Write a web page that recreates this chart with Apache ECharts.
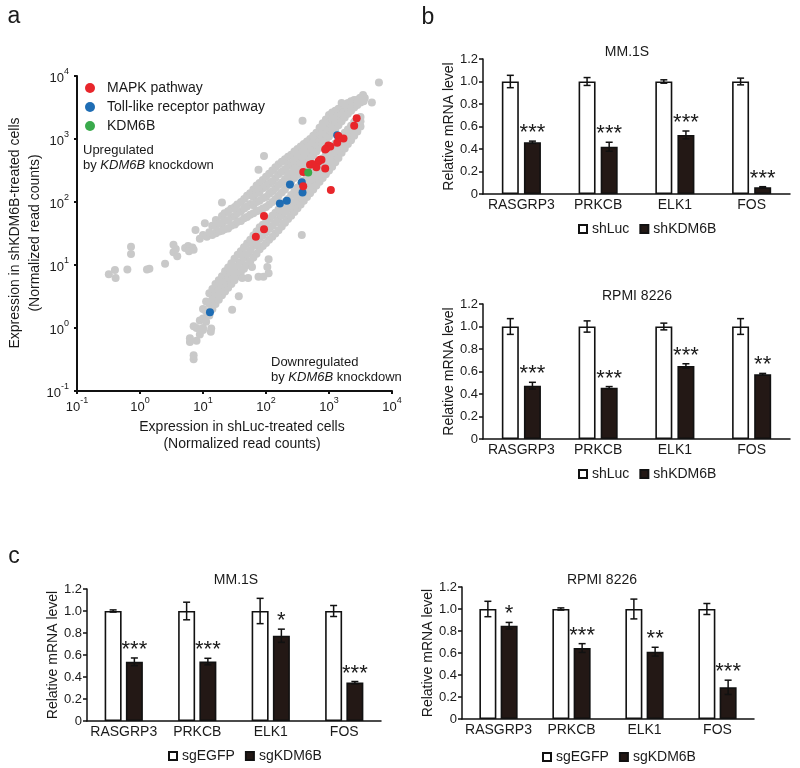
<!DOCTYPE html>
<html><head><meta charset="utf-8">
<script src="https://cdn.jsdelivr.net/npm/echarts@6/dist/echarts.min.js"></script>
<style>html,body{margin:0;padding:0;background:#fff}#c{width:800px;height:768px}</style>
</head><body><div id="c"></div>
<script>
const FONT = '"Liberation Sans", Arial, Helvetica, sans-serif';
const INK = '#1a1a1a';

// ---------- Panel a: scatter (normalized read counts) ----------
const grayUpper = [
[14,30],[14,42],[16,32],[16,41],[16,52],[18,34],[18,46],[20,35],[20,46],[20,60],
[22,37],[22,50],[22,66],[25,38],[25,51],[25,71],[28,42],[28,58],[28,78],
[32,44],[32,60],[32,83],[35,48],[35,66],[35,91],[40,50],[40,71],[40,100],
[45,55],[45,79],[45,112],[50,58],[50,85],[50,126],[56,63],[56,93],[56,138],
[63,66],[63,89],[63,120],[63,158],[71,71],[71,100],[71,138],[71,182],
[79,74],[79,105],[79,145],[79,200],[89,79],[89,115],[89,166],[89,224],
[100,83],[100,120],[100,174],[100,251],[112,91],[112,135],[112,195],[112,282],
[126,100],[126,148],[126,214],[126,316],[141,112],[141,166],[141,240],[141,355],
[158,126],[158,186],[158,275],[158,398],[178,141],[178,204],[178,302],[178,437],
[200,158],[200,229],[200,331],[200,479],[224,182],[224,263],[224,372],[224,525],
[251,209],[251,288],[251,407],[251,562],[282,240],[282,331],[282,457],[282,631],
[316,269],[316,372],[316,501],[316,692],[355,309],[355,417],[355,562],[355,759],
[398,355],[398,468],[398,631],[398,832],[447,417],[447,550],[447,724],[447,912],
[501,479],[501,617],[501,794],[501,1000],[562,550],[562,708],[562,891],[562,1122],
[631,631],[631,794],[631,1000],[631,1259],[708,724],[708,933],[708,1175],[708,1514],
[794,832],[794,1072],[794,1380],[794,1778],[891,955],[891,1230],[891,1585],[891,2042],
[1000,1096],[1000,1413],[1000,1820],[1000,2399],[1122,1259],[1122,1622],[1122,2042],[1122,2630],
[1259,1445],[1259,1820],[1259,2291],[1259,2818],[1413,1660],[1413,2089],[1413,2630],[1413,3020],
[1585,1905],[1585,2455],[1585,3162],[1778,2188],[1778,2754],[1778,3388],
[1995,2512],[1995,3090],[1995,3715],[2239,2818],[2239,3388],[2239,3981],
[2512,3162],[2512,3715],[2512,4169],[2818,3467],[2818,4169],[3162,3802],[3162,4467],[3548,3981]
];
const grayLower = [
[7.1,0.32],[7.1,0.37],[7.9,0.63],[7.9,1.0],[8.9,0.79],[8.9,1.32],
[10,1.0],[10,1.41],[10,2.0],[11.2,1.26],[11.2,1.82],[11.2,2.63],
[12.6,1.58],[12.6,2.4],[12.6,3.55],[14.1,2.0],[14.1,2.88],[14.1,4.17],
[15.8,2.4],[15.8,3.47],[15.8,5.0],[17.8,2.82],[17.8,3.98],[17.8,5.75],
[20,3.31],[20,4.68],[20,6.61],[22.4,3.8],[22.4,5.5],[22.4,7.94],
[25.1,4.37],[25.1,6.31],[25.1,9.12],[28.2,5.0],[28.2,7.24],[28.2,10.7],
[31.6,5.75],[31.6,8.51],[31.6,12.6],[35.5,6.61],[35.5,9.77],[35.5,14.5],
[39.8,7.59],[39.8,11.2],[39.8,16.6],[44.7,8.71],[44.7,12.9],[44.7,19.1],
[50.1,10],[50.1,14.8],[50.1,21.9],[56.2,11.5],[56.2,17],[56.2,25.1],
[63.1,13.2],[63.1,20],[63.1,29.5],[70.8,15.1],[70.8,22.9],[70.8,33.9],
[79.4,17.8],[79.4,26.3],[79.4,39.8],[89.1,20],[89.1,29.5],[89.1,43.7],
[100,22.4],[100,33.1],[100,47.9],[112,25.1],[112,37.2],[112,53.7],
[126,28.2],[126,41.7],[126,60.3],[141,31.6],[141,46.8],[141,67.6],
[158,35.5],[158,52.5],[158,75.9],[178,40.7],[178,60.3],[178,87.1],
[200,46.8],[200,69.2],[200,100],[224,53.7],[224,77.6],[224,112],
[251,60.3],[251,89.1],[251,129],[282,69.2],[282,100],[282,148],
[316,79.4],[316,117],[316,170],[355,91.2],[355,132],[355,191],
[398,105],[398,151],[398,219],[447,120],[447,174],[447,251],
[501,138],[501,200],[501,288],[562,158],[562,229],[562,331],
[631,182],[631,263],[631,372],[708,209],[708,302],[708,427],
[794,240],[794,347],[794,490],[891,275],[891,398],[891,562],
[1000,316],[1000,457],[1000,646],[1122,363],[1122,525],[1122,741],
[1259,427],[1259,603],[1259,851],[1413,501],[1413,708],[1413,977],
[1585,603],[1585,813],[1585,1096],[1778,708],[1778,955],[1778,1259],
[1995,832],[1995,1096],[1995,1413],[2239,955],[2239,1259],[2239,1622],
[2512,1122],[2512,1445],[2512,1862],[2818,1318],[2818,1660],[2818,2042],
[3162,1585],[3162,1905],[3162,2239]
];
const grayOutliers = [
[0.32,7.1],[0.40,8.3],[0.41,6.2],[0.63,8.5],[1.29,8.5],[1.41,8.7],[0.72,19.5],[0.72,15],
[2.5,10.5],[3.4,21],[3.4,16],[3.9,13.8],[3.7,18],[5.2,18.6],[5.8,20],[6.3,18.6],[6.8,19],
[7.1,17.4],[6.0,16.6],[7.6,36],[8.9,26],[10,30],[10.7,46],[11.5,28],[12.6,33],[20,98],
[6200,7900],[3700,4470],[4790,3800],[1585,3715],[380,1950],[93,537],[76,324],[3470,5000],[3090,4470],
[6.2,0.69],[6.2,0.60],[7.1,1.07],[10,0.93],[13.3,0.87],[13.5,0.98],[29,1.95],[37,3.2],
[31,6.2],[42,6.2],[52,6.2],[76,6.5],[91,6.5],[110,7.4],[105,9.3],[110,12.3],[60,9.3],[72,21],[370,30]
];
const mapkPoints = [
[2750,2140],[2510,1620],[1410,1120],[1700,1020],[1350,870],[1050,760],[910,710],[980,790],
[870,680],[720,470],[760,470],[680,440],[630,355],[870,340],[500,390],[540,400],[390,300],
[390,178],[1070,155],[93,60],[93,37],[69,28]
];
const tollPoints = [[1350,1150],[240,190],[370,205],[380,141],[214,105],[166,95],[12.9,1.78]];
const kdm6bPoints = [[468,295]];
const scatterLegend = ['MAPK pathway','Toll-like receptor pathway','KDM6B'];

// ---------- Panels b and c: qPCR bars ----------
const genes = ['RASGRP3','PRKCB','ELK1','FOS'];
// b, MM.1S
const shLuc_MM = [1,1,1,1];
const shLucErr_MM = [0.055,0.035,0.015,0.03];
const shKDM6B_MM = [0.46,0.42,0.525,0.06];
const shKDM6BErr_MM = [0.01,0.04,0.035,0.005];
const stars_b_MM = ['***','***','***','***'];
// b, RPMI 8226
const shLuc_RPMI = [1,1,1,1];
const shLucErr_RPMI = [0.07,0.05,0.03,0.07];
const shKDM6B_RPMI = [0.474,0.456,0.649,0.575];
const shKDM6BErr_RPMI = [0.03,0.01,0.02,0.008];
const stars_b_RPMI = ['***','***','***','**'];
// c, MM.1S
const sgEGFP_MM = [1,1,1,1];
const sgEGFPErr_MM = [0.01,0.08,0.115,0.05];
const sgKDM6B_MM = [0.538,0.54,0.775,0.349];
const sgKDM6BErr_MM = [0.035,0.03,0.06,0.01];
const stars_c_MM = ['***','***','*','***'];
// c, RPMI 8226
const sgEGFP_RPMI = [1,1,1,1];
const sgEGFPErr_RPMI = [0.07,0.01,0.09,0.05];
const sgKDM6B_RPMI = [0.848,0.645,0.612,0.288];
const sgKDM6BErr_RPMI = [0.03,0.04,0.04,0.065];
const stars_c_RPMI = ['*','***','**','***'];

const chart = echarts.init(document.getElementById('c'), null, {renderer:'canvas'});

const supRich = {
  b: {fontSize: 13, fontFamily: FONT, color: INK, lineHeight: 18, verticalAlign: 'bottom'},
  s: {fontSize: 9, fontFamily: FONT, color: INK, lineHeight: 18, verticalAlign: 'top'}
};
function powLabel(v){ const e = Math.round(Math.log10(v)); return '{b|10}{s|' + e + '}'; }

const logAxisCommon = {
  type: 'log', logBase: 10, min: 0.1, max: 10000, gridIndex: 0,
  axisLine: {show: true, lineStyle: {color: '#111', width: 2}},
  axisTick: {show: true, length: 3, lineStyle: {color: '#111', width: 2}},
  splitLine: {show: false}, minorTick: {show: false},
  axisLabel: {formatter: powLabel, rich: supRich}
};

const grids = [
  {left: 77, top: 76, width: 315, height: 315},
  {left: 483, top: 59, width: 307, height: 135},
  {left: 483, top: 304, width: 307, height: 135},
  {left: 87, top: 589, width: 294, height: 132},
  {left: 462, top: 587, width: 292, height: 132}
];

const xAxes = [Object.assign({}, logAxisCommon, {axisLabel: {formatter: powLabel, rich: supRich, margin: 5}})];
const yAxes = [Object.assign({}, logAxisCommon, {axisLabel: {formatter: powLabel, rich: supRich, margin: 8}})];
for (let g = 1; g <= 4; g++) {
  xAxes.push({
    type: 'category', gridIndex: g, data: genes,
    axisLine: {lineStyle: {color: '#111', width: 1.5}},
    axisTick: {show: false},
    axisLabel: {interval: 0, fontSize: 14, fontFamily: FONT, color: INK, margin: 4}
  });
  yAxes.push({
    type: 'value', gridIndex: g, min: 0, max: 1.2, interval: 0.2,
    splitLine: {show: false},
    axisLine: {show: true, lineStyle: {color: '#111', width: 1.5}},
    axisTick: {show: true, length: 4, lineStyle: {color: '#111', width: 1.5}},
    axisLabel: {fontSize: 13, fontFamily: FONT, color: INK, margin: 5,
      formatter: v => v === 0 ? '0' : v.toFixed(1)},
    name: 'Relative mRNA level', nameLocation: 'middle', nameGap: 27,
    nameTextStyle: {fontSize: 14, fontFamily: FONT, color: INK}
  });
}

const series = [
  {type: 'scatter', name: 'other', xAxisIndex: 0, yAxisIndex: 0, symbolSize: 8,
   itemStyle: {color: '#c9c9c9', opacity: 1}, data: grayUpper.concat(grayLower, grayOutliers), z: 2, silent: true},
  {type: 'scatter', name: 'Toll-like receptor pathway', xAxisIndex: 0, yAxisIndex: 0, symbolSize: 8,
   itemStyle: {color: '#1f6db4', opacity: 1}, data: tollPoints, z: 3},
  {type: 'scatter', name: 'MAPK pathway', xAxisIndex: 0, yAxisIndex: 0, symbolSize: 8,
   itemStyle: {color: '#e8262b', opacity: 1}, data: mapkPoints, z: 4},
  {type: 'scatter', name: 'KDM6B', xAxisIndex: 0, yAxisIndex: 0, symbolSize: 8,
   itemStyle: {color: '#3aaa4c', opacity: 1}, data: kdm6bPoints, z: 5}
];

function addPanel(g, nameA, valsA, errA, nameB, valsB, errB, stars, gapPct) {
  const bw = 17;
  const off = (bw + bw * gapPct / 100) / 2;
  series.push({type: 'bar', name: nameA, xAxisIndex: g, yAxisIndex: g, data: valsA,
    barWidth: bw, barGap: gapPct + '%',
    itemStyle: {color: '#ffffff', borderColor: '#111', borderWidth: 1.6}});
  series.push({type: 'bar', name: nameB, xAxisIndex: g, yAxisIndex: g, data: valsB,
    barWidth: bw, barGap: gapPct + '%',
    itemStyle: {color: '#231815', borderColor: '#111', borderWidth: 1.6}});
  const mk = (vals, errs, dx, marks) => ({
    type: 'custom', xAxisIndex: g, yAxisIndex: g, z: 5,
    data: vals.map((v, i) => [i, v, errs[i]]),
    encode: {x: 0, y: 1},
    renderItem: function (params, api) {
      const i = api.value(0), v = api.value(1), e = api.value(2);
      const t = api.coord([i, v + e]);
      const b = api.coord([i, v - e]);
      const x = t[0] + dx;
      const ls = {stroke: '#111', lineWidth: 1.5};
      const children = [
        {type: 'line', shape: {x1: x, y1: t[1], x2: x, y2: b[1]}, style: ls},
        {type: 'line', shape: {x1: x - 3.5, y1: t[1], x2: x + 3.5, y2: t[1]}, style: ls},
        {type: 'line', shape: {x1: x - 3.5, y1: b[1], x2: x + 3.5, y2: b[1]}, style: ls}
      ];
      if (marks) {
        children.push({type: 'text', style: {text: marks[params.dataIndex], x: x, y: t[1] - 8,
          align: 'center', verticalAlign: 'middle', fontSize: 22, fontFamily: FONT, fill: INK}});
      }
      return {type: 'group', children: children};
    }
  });
  series.push(mk(valsA, errA, -off, null));
  series.push(mk(valsB, errB, off, stars));
}
addPanel(1, 'shLuc', shLuc_MM, shLucErr_MM, 'shKDM6B', shKDM6B_MM, shKDM6BErr_MM, stars_b_MM, 30);
addPanel(2, 'shLuc', shLuc_RPMI, shLucErr_RPMI, 'shKDM6B', shKDM6B_RPMI, shKDM6BErr_RPMI, stars_b_RPMI, 30);
addPanel(3, 'sgEGFP', sgEGFP_MM, sgEGFPErr_MM, 'sgKDM6B', sgKDM6B_MM, sgKDM6BErr_MM, stars_c_MM, 25);
addPanel(4, 'sgEGFP', sgEGFP_RPMI, sgEGFPErr_RPMI, 'sgKDM6B', sgKDM6B_RPMI, sgKDM6BErr_RPMI, stars_c_RPMI, 25);

const barLegend = (names, left, cy) => ({
  data: names, left: left, top: cy - 8, icon: 'rect', itemWidth: 8, itemHeight: 8, itemGap: 10,
  selectedMode: false, textStyle: {fontSize: 14, fontFamily: FONT, color: INK}
});

const txt = (x, y, text, size, extra) => ({type: 'text', x: x, y: y,
  style: Object.assign({text: text, fontSize: size, fontFamily: FONT, fill: INK, align: 'center', verticalAlign: 'middle'}, extra || {})});

const italRich = {i: {fontStyle: 'italic', fontSize: 13, fontFamily: FONT, color: INK}};

chart.setOption({
  animation: false,
  backgroundColor: '#ffffff',
  textStyle: {fontFamily: FONT},
  grid: grids,
  xAxis: xAxes,
  yAxis: yAxes,
  legend: [
    {data: scatterLegend, orient: 'vertical', left: 80, top: 76, icon: 'circle',
     itemWidth: 24, itemHeight: 10, itemGap: 5, selectedMode: false,
     textStyle: {fontSize: 14, fontFamily: FONT, color: INK}},
    barLegend(['shLuc', 'shKDM6B'], 573, 225),
    barLegend(['shLuc', 'shKDM6B'], 573, 470),
    barLegend(['sgEGFP', 'sgKDM6B'], 163, 752),
    barLegend(['sgEGFP', 'sgKDM6B'], 537, 753)
  ],
  series: series,
  graphic: [
    txt(14, 17, 'a', 23),
    txt(428, 18, 'b', 23),
    txt(14, 557, 'c', 23),
    txt(627, 52, 'MM.1S', 14),
    txt(637, 296, 'RPMI 8226', 14),
    txt(236, 580, 'MM.1S', 14),
    txt(602, 580, 'RPMI 8226', 14),
    {type: 'text', x: 25, y: 233, rotation: Math.PI / 2,
     style: {text: 'Expression in shKDM6B-treated cells\n(Normalized read counts)', fontSize: 14,
       lineHeight: 20, fontFamily: FONT, fill: INK, align: 'center', verticalAlign: 'middle'}},
    {type: 'text', x: 242, y: 436,
     style: {text: 'Expression in shLuc-treated cells\n(Normalized read counts)', fontSize: 14,
       lineHeight: 17, fontFamily: FONT, fill: INK, align: 'center', verticalAlign: 'middle'}},
    {type: 'text', x: 83, y: 158,
     style: {text: 'Upregulated\nby {i|KDM6B} knockdown', rich: italRich, fontSize: 13, lineHeight: 15,
       fontFamily: FONT, fill: INK, align: 'left', verticalAlign: 'middle'}},
    {type: 'text', x: 271, y: 370,
     style: {text: 'Downregulated\nby {i|KDM6B} knockdown', rich: italRich, fontSize: 13, lineHeight: 15,
       fontFamily: FONT, fill: INK, align: 'left', verticalAlign: 'middle'}}
  ]
});
</script>
</body></html>
